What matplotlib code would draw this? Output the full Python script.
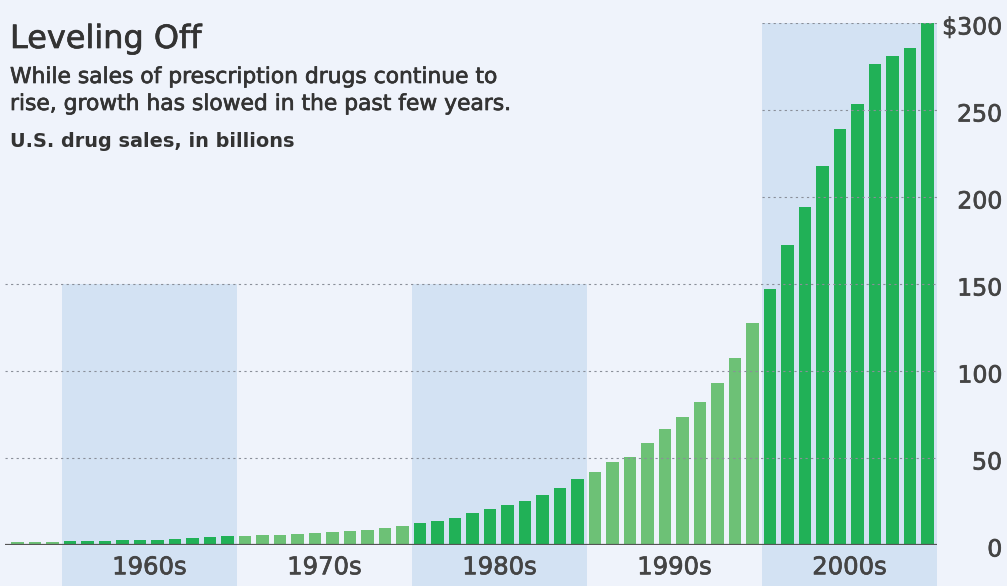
import numpy as np
import matplotlib
matplotlib.use("Agg")
import matplotlib.pyplot as plt
import matplotlib.patheffects as pe
from matplotlib.transforms import ScaledTranslation

# U.S. drug sales, billions of dollars, 1957-2009
years = np.arange(1957, 2010)
sales = [1.7, 1.8, 1.9,
         2.1, 2.2, 2.3, 2.6, 2.8, 3.1, 3.4, 4.2, 4.5, 4.9,
         5.3, 5.6, 5.9, 6.5, 6.9, 7.3, 8.1, 8.9, 9.6, 11.1,
         12.5, 14.0, 15.7, 18.2, 20.7, 22.8, 25.3, 28.7, 32.9, 37.7,
         42.1, 47.9, 50.4, 58.4, 66.6, 73.4, 82.0, 93.3, 107.3, 127.8,
         147.0, 172.4, 194.0, 217.8, 238.9, 253.4, 276.3, 281.0, 285.8, 300.0]
decades = [1960, 1970, 1980, 1990, 2000]
decade_labels = ["1960s", "1970s", "1980s", "1990s", "2000s"]
shaded = [1960, 1980, 2000]
yticks = [0, 50, 100, 150, 200, 250, 300]
ytick_labels = ["0", "50", "100", "150", "200", "250", "$300"]

bg = "#eff3fb"
band = "#d3e2f3"
dark_green = "#21b157"
light_green = "#6dc176"
txt = "#333333"
grey = "#444444"

plt.rcParams['font.family'] = ['DejaVu Sans']


def heavy(c):
    # the original type is a touch heavier than DejaVu regular
    return [pe.withStroke(linewidth=0.5, foreground=c)]


fig = plt.figure(figsize=(10.07, 5.86), dpi=100, facecolor=bg)
ax = fig.add_axes([5/1007, 1-545/586, 932/1007, 522/586])
ax.set_facecolor("none")
ax.set_xlim(1956.75, 2010)
ax.set_ylim(0, 300)

# shaded decades, running down past the axis to the bottom of the picture
for d in shaded:
    top = 1.0 if d == 2000 else 0.5
    ax.axvspan(d, d + 10, ymin=-41/522, ymax=top, color=band, lw=0,
               zorder=0, clip_on=False)

colors = [dark_green if (y // 10) % 2 == 0 else light_green for y in years]
ax.bar(years + 0.1, sales, width=0.72, align="edge", color=colors, zorder=2)

# dotted gridlines
for t in yticks[1:]:
    x0 = 1956.75 if t <= 150 else 2000
    ax.hlines(t, x0, 2010, colors="#8a8f99", linestyles=(0, (2, 3)),
              lw=0.8, zorder=3)
ax.hlines(0, 1956.75, 2010, colors="#555555", lw=1.6, zorder=4)

for d, lab in zip(decades, decade_labels):
    ax.text(d + 5, -12.8, lab, ha="center", va="center", fontsize=17.5,
            color=grey, clip_on=False, path_effects=heavy(grey))

for s in ax.spines.values():
    s.set_visible(False)
ax.set_xticks([])
ax.yaxis.tick_right()
ax.set_yticks(yticks)
ax.set_yticklabels(ytick_labels)
ax.tick_params(axis="y", length=0, pad=47, labelsize=17, labelcolor=grey)
shift = ScaledTranslation(0, -2/100, fig.dpi_scale_trans)
for lab in ax.get_yticklabels():
    lab.set_horizontalalignment("right")
    lab.set_transform(lab.get_transform() + shift)
    lab.set_path_effects(heavy(grey))

fig.text(10/1007, 1-48/586, "Leveling Off", fontsize=23, color=txt,
         va="baseline", path_effects=heavy(txt))
fig.text(10/1007, 1-83/586, "While sales of prescription drugs continue to",
         fontsize=15.7, color=txt, va="baseline", path_effects=heavy(txt))
fig.text(10/1007, 1-110/586, "rise, growth has slowed in the past few years.",
         fontsize=15.7, color=txt, va="baseline", path_effects=heavy(txt))
fig.text(10/1007, 1-147/586, "U.S. drug sales, in billions", fontsize=13.9,
         color=txt, va="baseline", fontweight="bold")

fig.savefig("out.png", dpi=100, facecolor=bg)
